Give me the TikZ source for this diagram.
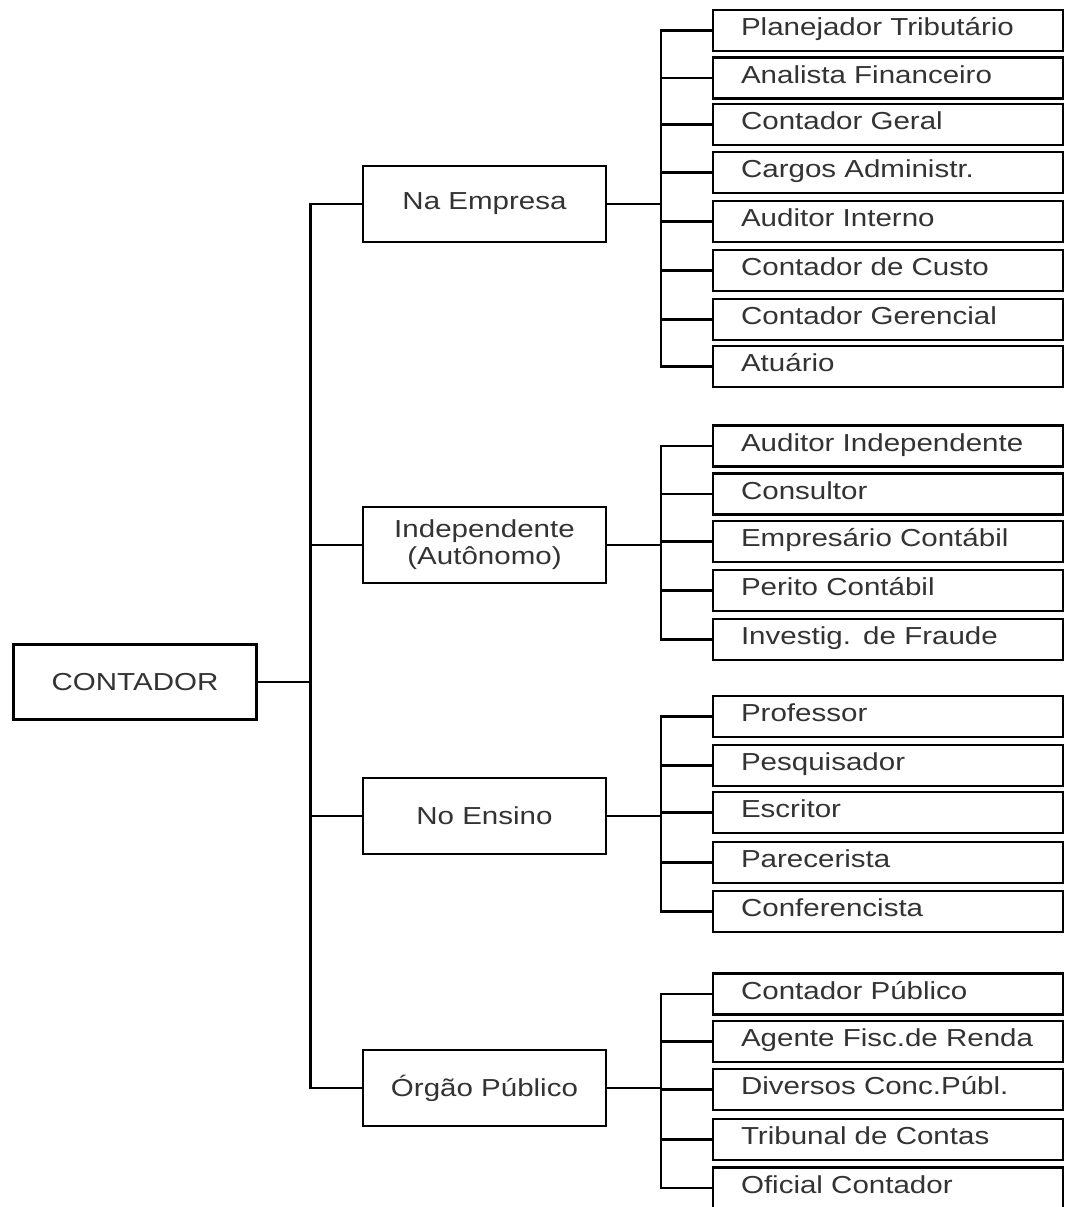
\documentclass[tikz,border=0pt]{standalone}
\usepackage{fontspec}
\setmainfont{Liberation Sans}[FakeStretch=1.2]
\usetikzlibrary{positioning}

\begin{document}
\begin{tikzpicture}[x=0.02cm, y=-0.02cm, line width=1.2pt]
  % 1 unit = 1 px of the original chart, y grows downwards
  \useasboundingbox (0, 0) rectangle (1065, 1207);

  \tikzset{root node/.style={rectangle,draw,minimum width=4.86cm,minimum height=1.5cm,
                             text=black!80,font=\fontsize{14}{15.5}\selectfont}}
  \tikzset{area node/.style={rectangle,draw,minimum width=4.86cm,minimum height=1.52cm,
                             align=center,text=black!80,font=\fontsize{14}{15.5}\selectfont}}
  \tikzset{job node/.style={rectangle,draw,minimum height=0.82cm,inner xsep=0.56cm,
                            text width=5.88cm,align=left,text height=0.5cm,text depth=0.3cm,
                            inner ysep=0pt,text=black!80,font=\fontsize{14}{15.5}\selectfont}}

  \path (135, 682) node[root node](root) {CONTADOR};

  \path
    (484.5, 204)  node[area node](empresa) {Na Empresa}
    (484.5, 545)  node[area node](indep)   {Independente\\(Autônomo)}
    (484.5, 816)  node[area node](ensino)  {No Ensino}
    (484.5, 1088) node[area node](orgao)   {Órgão Público}
  ;

  % na empresa
  \path
    (888, 30.5)  node[job node](e1) {Planejador Tributário}
    (888, 78)    node[job node](e2) {Analista Financeiro}
    (888, 124.5) node[job node](e3) {Contador Geral}
    (888, 172.5) node[job node](e4) {Cargos Administr.}
    (888, 221.5) node[job node](e5) {Auditor Interno}
    (888, 270.5) node[job node](e6) {Contador de Custo}
    (888, 319.5) node[job node](e7) {Contador Gerencial}
    (888, 366.5) node[job node](e8) {Atuário}
  ;

  % independente
  \path
    (888, 446)   node[job node](i1) {Auditor Independente}
    (888, 494)   node[job node](i2) {Consultor}
    (888, 541.5) node[job node](i3) {Empresário Contábil}
    (888, 590.5) node[job node](i4) {Perito Contábil}
    (888, 639.5) node[job node](i5) {Investig. de Fraude}
  ;

  % ensino
  \path
    (888, 716.5) node[job node](n1) {Professor}
    (888, 765.5) node[job node](n2) {Pesquisador}
    (888, 812.5) node[job node](n3) {Escritor}
    (888, 862.5) node[job node](n4) {Parecerista}
    (888, 911.5) node[job node](n5) {Conferencista}
  ;

  % orgao publico
  \path
    (888, 994)    node[job node](o1) {Contador Público}
    (888, 1041.5) node[job node](o2) {Agente Fisc.de Renda}
    (888, 1089.5) node[job node](o3) {Diversos Conc.Públ.}
    (888, 1139.5) node[job node](o4) {Tribunal de Contas}
    (888, 1188)   node[job node](o5) {Oficial Contador}
  ;

  % tree lines
  \coordinate[right=1.06cm of root] (trunk);
  \draw (root) -- (trunk);
  \draw (empresa.west) -| (trunk);
  \draw (indep.west)   -| (trunk);
  \draw (ensino.west)  -| (trunk);
  \draw (orgao.west)   -| (trunk);

  \coordinate[right=1.08cm of empresa] (eb);
  \coordinate[right=1.08cm of indep]   (ib);
  \coordinate[right=1.08cm of ensino]  (nb);
  \coordinate[right=1.08cm of orgao]   (ob);
  \draw (empresa) -- (eb);
  \draw (indep) -- (ib);
  \draw (ensino) -- (nb);
  \draw (orgao) -- (ob);

  \draw (e1.west) -| (eb);  \draw (e2.west) -| (eb);
  \draw (e3.west) -| (eb);  \draw (e4.west) -| (eb);
  \draw (e5.west) -| (eb);  \draw (e6.west) -| (eb);
  \draw (e7.west) -| (eb);  \draw (e8.west) -| (eb);

  \draw (i1.west) -| (ib);  \draw (i2.west) -| (ib);
  \draw (i3.west) -| (ib);  \draw (i4.west) -| (ib);
  \draw (i5.west) -| (ib);

  \draw (n1.west) -| (nb);  \draw (n2.west) -| (nb);
  \draw (n3.west) -| (nb);  \draw (n4.west) -| (nb);
  \draw (n5.west) -| (nb);

  \draw (o1.west) -| (ob);  \draw (o2.west) -| (ob);
  \draw (o3.west) -| (ob);  \draw (o4.west) -| (ob);
  \draw (o5.west) -| (ob);

\end{tikzpicture}
\end{document}
